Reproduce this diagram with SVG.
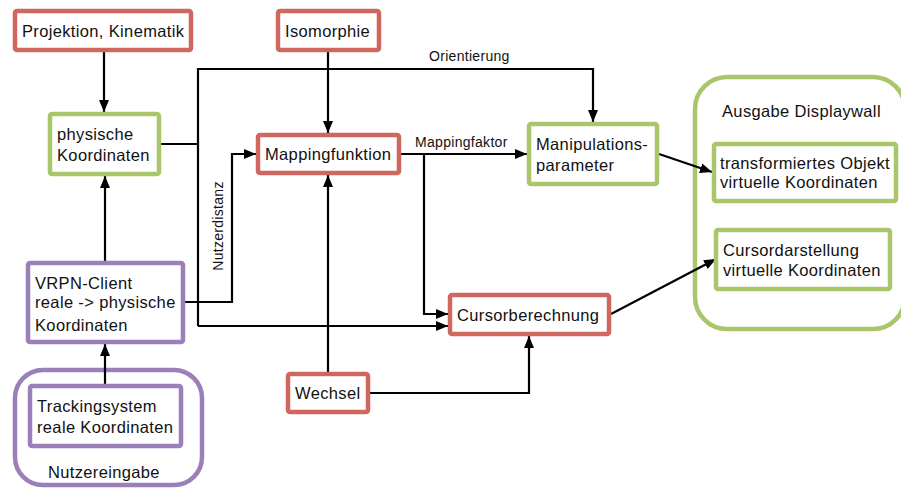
<svg xmlns="http://www.w3.org/2000/svg" width="901" height="489" viewBox="0 0 901 489">
<style>
  .box { fill: #ffffff; stroke-width: 4.5; }
  .red { stroke: #d0675f; }
  .green { stroke: #a9c66b; }
  .purple { stroke: #9a7fb8; }
  .group { fill: none; stroke-width: 4.5; }
  .t { font-family: "Liberation Sans", Arial, Helvetica, sans-serif; font-size: 16.5px; letter-spacing: 0.35px; fill: #111111; }
  .lbl { font-family: "Liberation Sans", Arial, Helvetica, sans-serif; font-size: 14px; letter-spacing: 0.3px; fill: #111111; }
  .c { fill: none; stroke: #000000; stroke-width: 2.2; }
</style>
<defs>
  <marker id="arr" markerUnits="userSpaceOnUse" markerWidth="13" markerHeight="10" refX="12" refY="5" orient="auto">
    <path d="M0,0 L12,5 L0,10 z" fill="#000000"/>
  </marker>
</defs>
<rect width="901" height="489" fill="#ffffff"/>

<g id="group-ausgabe">
  <rect class="group green" x="695" y="77" width="210" height="252" rx="32"/>
  <text class="t" x="722" y="117">Ausgabe Displaywall</text>
</g>
<g id="group-nutzereingabe">
  <rect class="group purple" x="15" y="370" width="187" height="115" rx="28"/>
  <text class="t" x="48" y="478">Nutzereingabe</text>
</g>

<g id="connectors">
  <path class="c" d="M104,52 V112" marker-end="url(#arr)"/>
  <path class="c" d="M328,52 V133" marker-end="url(#arr)"/>
  <path class="c" d="M105,261 V176" marker-end="url(#arr)"/>
  <path class="c" d="M105,384 V344" marker-end="url(#arr)"/>
  <path class="c" d="M161,144 H198"/>
  <path class="c" d="M198,326 V69 H593 V122" marker-end="url(#arr)"/>
  <path class="c" d="M198,326 H448" marker-end="url(#arr)"/>
  <path class="c" d="M184,302 H232 V154 H256" marker-end="url(#arr)"/>
  <path class="c" d="M401,154 H527" marker-end="url(#arr)"/>
  <path class="c" d="M424,154 V314 H448" marker-end="url(#arr)"/>
  <path class="c" d="M328,372 V175" marker-end="url(#arr)"/>
  <path class="c" d="M370,393 H529 V336" marker-end="url(#arr)"/>
  <path class="c" d="M659,154 L712,172" marker-end="url(#arr)"/>
  <path class="c" d="M611,314 L716,259" marker-end="url(#arr)"/>
  <text class="lbl" x="429" y="61">Orientierung</text>
  <text class="lbl" x="415" y="147">Mappingfaktor</text>
  <text class="lbl" text-anchor="middle" transform="translate(223,226) rotate(-90)">Nutzerdistanz</text>
</g>

<g id="node-projektion">
  <rect class="box red" x="15" y="11" width="176" height="39" rx="2"/>
  <text class="t" x="22" y="37">Projektion, Kinematik</text>
</g>
<g id="node-isomorphie">
  <rect class="box red" x="278" y="11" width="101" height="39" rx="2"/>
  <text class="t" x="285" y="37">Isomorphie</text>
</g>
<g id="node-physische">
  <rect class="box green" x="50" y="114" width="109" height="60" rx="2"/>
  <text class="t" x="57" y="140">physische</text>
  <text class="t" x="57" y="161">Koordinaten</text>
</g>
<g id="node-mappingfunktion">
  <rect class="box red" x="258" y="135" width="141" height="38" rx="2"/>
  <text class="t" x="265" y="160">Mappingfunktion</text>
</g>
<g id="node-manipulationsparameter">
  <rect class="box green" x="529" y="124" width="128" height="60" rx="2"/>
  <text class="t" x="536" y="150">Manipulations-</text>
  <text class="t" x="536" y="171">parameter</text>
</g>
<g id="node-transformiertes">
  <rect class="box green" x="714" y="144" width="182" height="57" rx="2"/>
  <text class="t" x="720" y="169">transformiertes Objekt</text>
  <text class="t" x="720" y="188">virtuelle Koordinaten</text>
</g>
<g id="node-cursordarstellung">
  <rect class="box green" x="716" y="230" width="174" height="59" rx="2"/>
  <text class="t" x="723" y="256">Cursordarstellung</text>
  <text class="t" x="723" y="276">virtuelle Koordinaten</text>
</g>
<g id="node-vrpn">
  <rect class="box purple" x="28" y="263" width="155" height="79" rx="2"/>
  <text class="t" x="35" y="289">VRPN-Client</text>
  <text class="t" x="35" y="308">reale -&gt; physische</text>
  <text class="t" x="35" y="331">Koordinaten</text>
</g>
<g id="node-tracking">
  <rect class="box purple" x="30" y="386" width="151" height="60" rx="2"/>
  <text class="t" x="37" y="412">Trackingsystem</text>
  <text class="t" x="37" y="433">reale Koordinaten</text>
</g>
<g id="node-wechsel">
  <rect class="box red" x="288" y="374" width="80" height="38" rx="2"/>
  <text class="t" x="295" y="399">Wechsel</text>
</g>
<g id="node-cursorberechnung">
  <rect class="box red" x="450" y="295" width="159" height="39" rx="2"/>
  <text class="t" x="457" y="321">Cursorberechnung</text>
</g>
</svg>
